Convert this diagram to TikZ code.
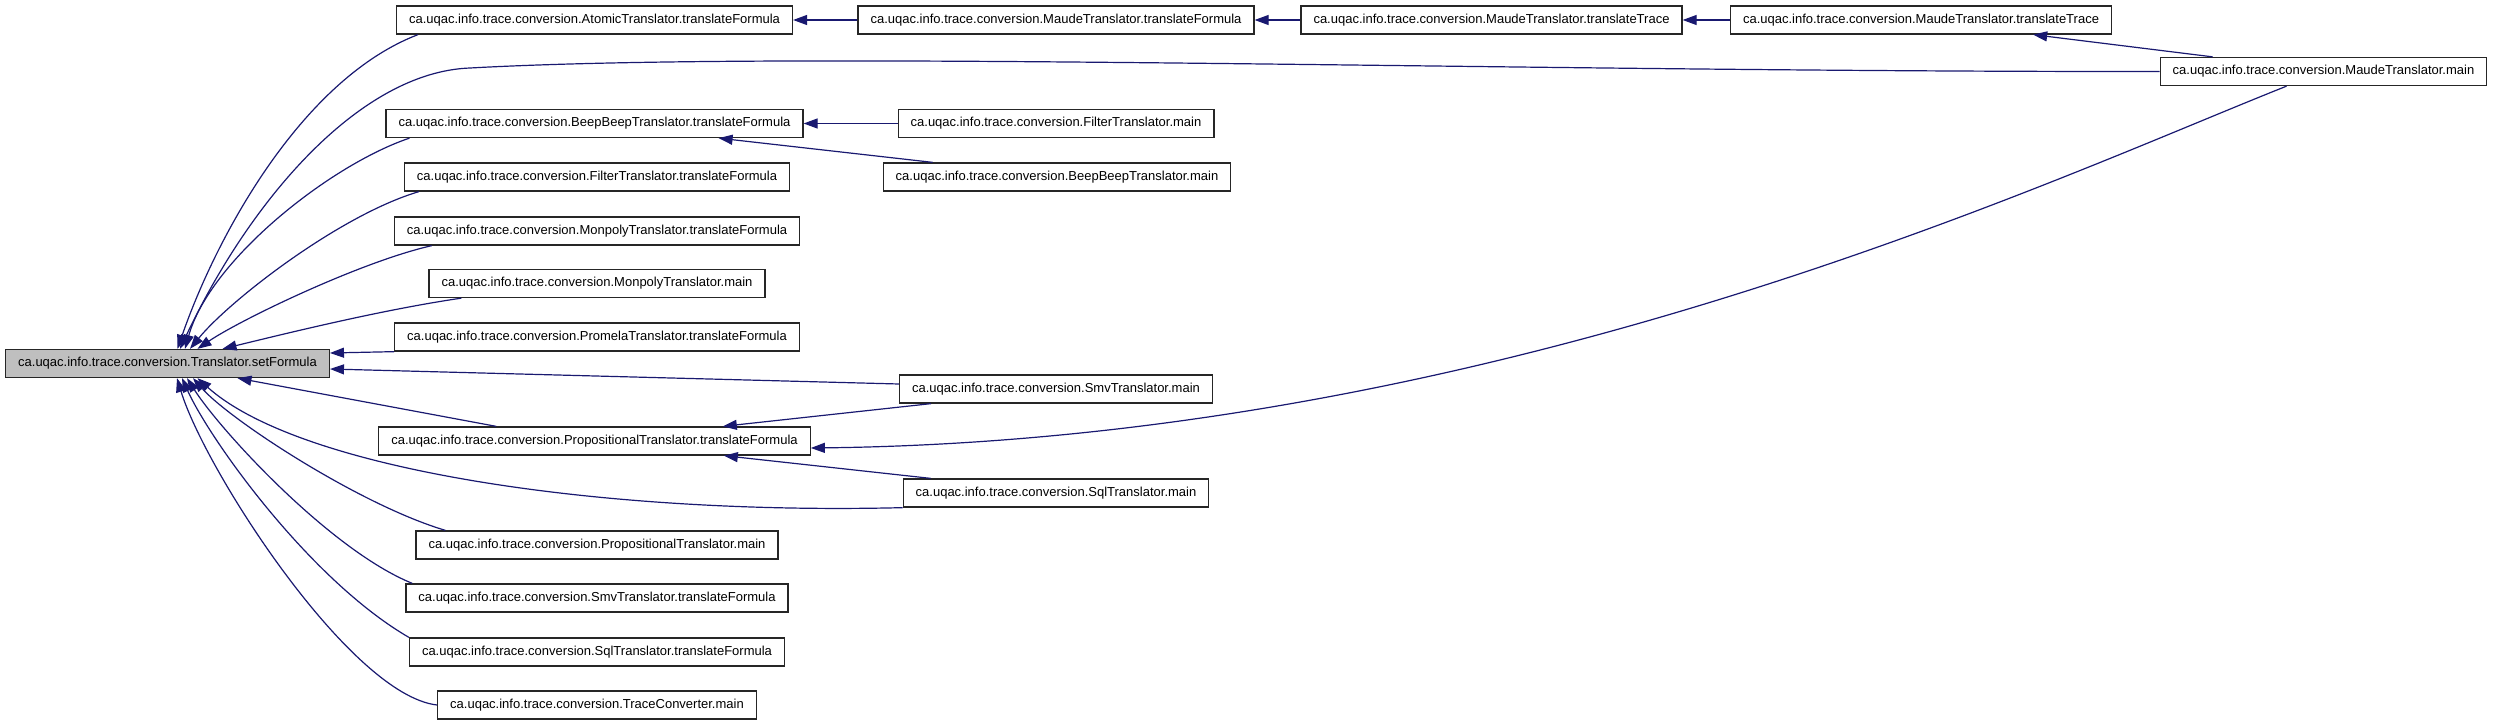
\documentclass[tikz,border=0pt]{standalone}
\usepackage{fontspec}
\setmainfont{Liberation Sans}
\usetikzlibrary{arrows.meta}
\definecolor{callblue}{HTML}{191970}
\definecolor{curgray}{HTML}{BFBFBF}
\tikzset{
  fnbox/.style={draw=black!85,line width=1.3pt,fill=white,inner xsep=12.5pt,inner ysep=0pt,
    minimum height=28pt,font=\fontsize{13}{15}\selectfont},
  curbox/.style={fnbox,fill=curgray},
  call/.style={callblue,line width=1.2pt,-{Triangle[length=14pt,width=10pt]}}
}
\begin{document}
\begin{tikzpicture}[x=1pt,y=-1pt]
        \useasboundingbox (0,0) rectangle (2493,725);

        % the function itself
        \node[curbox] (sf) at (167.5,363.5) {ca.uqac.info.trace.conversion.Translator.setFormula};

        % first column of callers
        \node[fnbox] (atomic) at (594.5,20) {ca.uqac.info.trace.conversion.AtomicTranslator.translateFormula};
        \node[fnbox] (beepTF) at (594.5,123.5) {ca.uqac.info.trace.conversion.BeepBeepTranslator.translateFormula};
        \node[fnbox] (filterTF) at (597,177) {ca.uqac.info.trace.conversion.FilterTranslator.translateFormula};
        \node[fnbox] (monpolyTF) at (597,231) {ca.uqac.info.trace.conversion.MonpolyTranslator.translateFormula};
        \node[fnbox] (monpolyMain) at (597,283.5) {ca.uqac.info.trace.conversion.MonpolyTranslator.main};
        \node[fnbox] (promelaTF) at (597,337) {ca.uqac.info.trace.conversion.PromelaTranslator.translateFormula};
        \node[fnbox] (propTF) at (594.5,441) {ca.uqac.info.trace.conversion.PropositionalTranslator.translateFormula};
        \node[fnbox] (propMain) at (597,545) {ca.uqac.info.trace.conversion.PropositionalTranslator.main};
        \node[fnbox] (smvTF) at (597,598) {ca.uqac.info.trace.conversion.SmvTranslator.translateFormula};
        \node[fnbox] (sqlTF) at (597,652) {ca.uqac.info.trace.conversion.SqlTranslator.translateFormula};
        \node[fnbox] (traceMain) at (597,705) {ca.uqac.info.trace.conversion.TraceConverter.main};

        % second column
        \node[fnbox] (maudeTF) at (1056,20) {ca.uqac.info.trace.conversion.MaudeTranslator.translateFormula};
        \node[fnbox] (filterMain) at (1056,123.5) {ca.uqac.info.trace.conversion.FilterTranslator.main};
        \node[fnbox] (beepMain) at (1057,177) {ca.uqac.info.trace.conversion.BeepBeepTranslator.main};
        \node[fnbox] (smvMain) at (1056,389) {ca.uqac.info.trace.conversion.SmvTranslator.main};
        \node[fnbox] (sqlMain) at (1056,493) {ca.uqac.info.trace.conversion.SqlTranslator.main};

        % maude chain
        \node[fnbox] (maudeTT) at (1491.5,20) {ca.uqac.info.trace.conversion.MaudeTranslator.translateTrace};
        \node[fnbox] (maudeTTb) at (1921,20) {ca.uqac.info.trace.conversion.MaudeTranslator.translateTrace};
        \node[fnbox] (maudeMain) at (2323.5,71.5) {ca.uqac.info.trace.conversion.MaudeTranslator.main};

        % calls into setFormula, from above
        \draw[call] ([xshift=22pt]atomic.south west) .. controls (300,80) and (215,240) .. ([xshift=10pt]sf.north);
        \draw[call] (maudeMain.west) .. controls (1500,72) and (800,50) .. (470,68)
          .. controls (360,72) and (250,200) .. ([xshift=12.5pt]sf.north);
        \draw[call] ([xshift=24pt]beepTF.south west) .. controls (330,165) and (210,260) .. ([xshift=17.5pt]sf.north);
        \draw[call] ([xshift=15pt]filterTF.south west) .. controls (340,215) and (230,300) .. ([xshift=22.5pt]sf.north);
        \draw[call] ([xshift=38pt]monpolyTF.south west) .. controls (360,262) and (240,320) .. ([xshift=30pt]sf.north);
        \draw[call] ([xshift=33pt]monpolyMain.south west) .. controls (380,310) and (280,335) .. ([xshift=55pt]sf.north);
        \draw[call] (promelaTF.south west) -- ([yshift=10.5pt]sf.east);
        \draw[call] ([yshift=5pt]smvMain.west) -- ([yshift=-5.5pt]sf.east);

        % calls into setFormula, from below
        \draw[call] ([xshift=118pt]propTF.north west) -- ([xshift=70pt]sf.south);
        \draw[call] (sqlMain.south west) .. controls (600,515) and (300,470) .. ([xshift=30pt]sf.south);
        \draw[call] ([xshift=30pt]propMain.north west) .. controls (360,505) and (230,420) .. ([xshift=25.5pt]sf.south);
        \draw[call] ([xshift=7pt]smvTF.north west) .. controls (330,550) and (220,430) .. ([xshift=19.5pt]sf.south);
        \draw[call] (sqlTF.north west) .. controls (310,580) and (210,440) .. ([xshift=14.5pt]sf.south);
        \draw[call] (traceMain.west) .. controls (350,695) and (205,470) .. ([xshift=9.5pt]sf.south);

        % other calls
        \draw[call] (maudeTF.west) -- (atomic.east);
        \draw[call] (maudeTT.west) -- (maudeTF.east);
        \draw[call] (maudeTTb.west) -- (maudeTT.east);
        \draw[call] ([xshift=53pt]maudeMain.north west) -- ([xshift=-79pt]maudeTTb.south east);
        \draw[call] ([xshift=127pt]maudeMain.south west) .. controls (2050,180) and (1500,440) .. ([yshift=-7pt]propTF.east);
        \draw[call] (filterMain.west) -- (beepTF.east);
        \draw[call] ([xshift=50pt]beepMain.north west) -- ([xshift=-85pt]beepTF.south east);
        \draw[call] ([xshift=32pt]smvMain.south west) -- ([xshift=-88pt]propTF.north east);
        \draw[call] ([xshift=28pt]sqlMain.north west) -- ([xshift=-87pt]propTF.south east);
      \end{tikzpicture}
\end{document}
